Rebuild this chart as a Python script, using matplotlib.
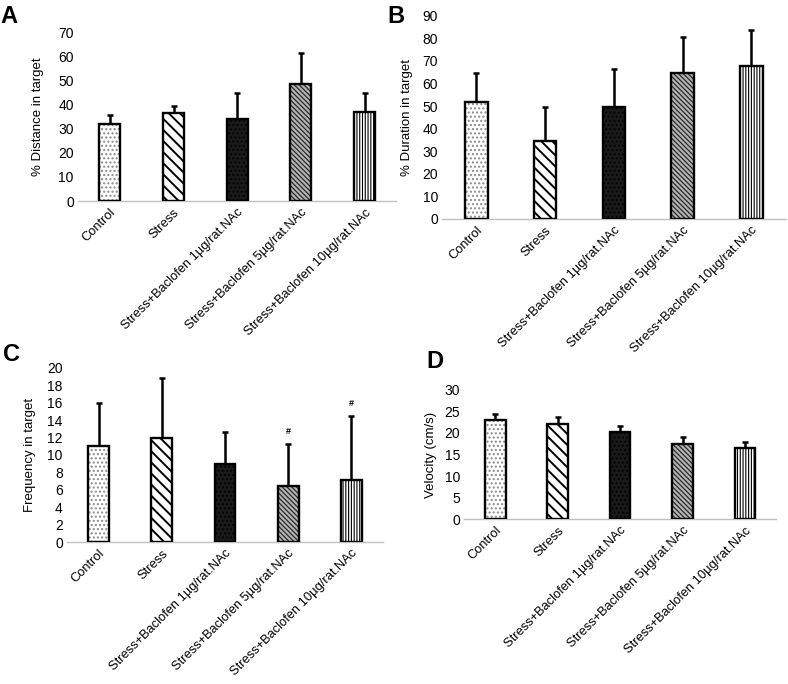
import numpy as np
import matplotlib
matplotlib.use("Agg")
import matplotlib.pyplot as plt

plt.rcParams['font.family'] = ['Liberation Sans', 'DejaVu Sans']

# group names
groups = ['Control', 'Stress', 'Stress+Baclofen 1µg/rat.NAc',
          'Stress+Baclofen 5µg/rat.NAc', 'Stress+Baclofen 10µg/rat.NAc']

# panel A - % distance in target
dist_mean = [32.1, 36.4, 33.9, 48.4, 36.8]
dist_err = [3.7, 2.9, 10.8, 13.0, 7.9]

# panel B - % duration in target
dur_mean = [51.8, 34.5, 49.4, 64.5, 67.7]
dur_err = [12.9, 14.9, 16.8, 16.2, 15.8]

# panel C - frequency in target
freq_mean = [11.0, 12.0, 9.0, 6.45, 7.15]
freq_err = [5.0, 6.9, 3.7, 4.85, 7.35]
freq_sig = ['', '', '', '#', '#']

# panel D - velocity
vel_mean = [22.9, 22.1, 20.2, 17.5, 16.5]
vel_err = [1.4, 1.5, 1.4, 1.5, 1.3]

# bar styles (facecolor, hatch, hatch colour, hatch linewidth)
styles = [('white', '....', '#8a8a8a', 1.0),
          ('white', '\\\\\\', 'black', 1.4),
          ('#1a1a1a', '....', 'black', 0.8),
          ('#b4b4b4', '\\\\\\\\\\\\\\', '#2a2a2a', 0.9),
          ('white', '||||||', 'black', 0.8)]


def draw_panel(ax, means, errs, ymax, ystep, ylabel, pad, sig=None):
    x = np.arange(len(means))
    for i in range(len(means)):
        fc, h, hc, hlw = styles[i]
        # hatch layer (hatch takes the edge colour), then black outline on top
        with plt.rc_context({'hatch.linewidth': hlw}):
            b = ax.bar(x[i], means[i], width=0.33, color=fc, edgecolor=hc,
                       hatch=h, linewidth=0, zorder=2)
            for p in b:
                if hasattr(p, 'set_hatch_linewidth'):
                    p.set_hatch_linewidth(hlw)
        ax.bar(x[i], means[i], width=0.33, fill=False, edgecolor='black',
               linewidth=1.7, zorder=3)
    ax.errorbar(x, means, yerr=[np.zeros(len(errs)), errs], fmt='none',
                ecolor='black', elinewidth=1.8, capsize=2, capthick=1.8, zorder=1)
    if sig is not None:
        for i in range(len(means)):
            if sig[i]:
                ax.text(x[i], means[i] + errs[i] + ymax * 0.045, sig[i],
                        ha='center', va='bottom', fontsize=6.5, fontweight='bold')
    ax.set_xlim(-0.5, len(means) - 0.5)
    ax.set_ylim(0, ymax)
    ax.set_yticks(np.arange(0, ymax + 0.1, ystep))
    ax.set_xticks(x)
    ax.set_xticklabels(groups, rotation=45, ha='right', rotation_mode='anchor')
    ax.tick_params(axis='y', length=0, labelsize=10, pad=3)
    ax.tick_params(axis='x', length=0, labelsize=9.3, pad=4)
    for s in ['top', 'right', 'left']:
        ax.spines[s].set_visible(False)
    ax.spines['bottom'].set_color('#c0c0c0')
    ax.spines['bottom'].set_linewidth(1.0)
    ax.set_ylabel(ylabel, fontsize=9.5, labelpad=pad)


fig = plt.figure(figsize=(7.88, 6.84), dpi=100)

axA = fig.add_axes([0.099, 0.706, 0.404, 0.247])
draw_panel(axA, dist_mean, dist_err, 70, 10, '% Distance in target', 10)

axB = fig.add_axes([0.561, 0.680, 0.436, 0.297])
draw_panel(axB, dur_mean, dur_err, 90, 10, '% Duration in target', 7)

axC = fig.add_axes([0.085, 0.2076, 0.401, 0.2544])
draw_panel(axC, freq_mean, freq_err, 20, 2, 'Frequency in target', 8, sig=freq_sig)

axD = fig.add_axes([0.589, 0.241, 0.396, 0.189])
draw_panel(axD, vel_mean, vel_err, 30, 5, 'Velocity (cm/s)', 5)

# panel letters
for letter, lx, ly in [('A', 0, 5), ('B', 387, 5), ('C', 3, 343), ('D', 426, 350)]:
    fig.text(lx / 788, 1 - ly / 684, letter, fontsize=17, fontweight='bold',
             ha='left', va='top')

fig.savefig('out.png', dpi=100)
